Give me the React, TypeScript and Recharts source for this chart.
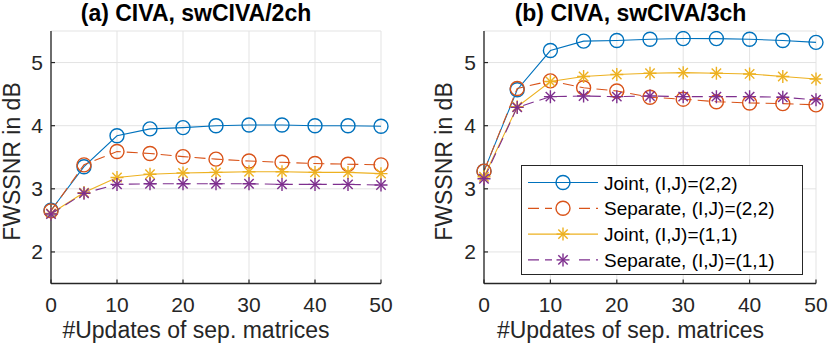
import { CartesianGrid, Label, Legend, Line, LineChart, XAxis, YAxis } from "recharts";

const updates = [0, 5, 10, 15, 20, 25, 30, 35, 40, 45, 50];
const xTicks = [0, 10, 20, 30, 40, 50];
const yTicks = [2, 3, 4, 5];

// (a) CIVA, swCIVA/2ch
const joint22A = [2.66, 3.35, 3.84, 3.95, 3.97, 4.0, 4.01, 4.01, 4.0, 4.0, 3.99];
const sep22A = [2.65, 3.38, 3.59, 3.56, 3.51, 3.47, 3.44, 3.42, 3.4, 3.39, 3.38];
const joint11A = [2.61, 2.94, 3.18, 3.23, 3.25, 3.26, 3.27, 3.27, 3.26, 3.26, 3.24];
const sep11A = [2.6, 2.93, 3.07, 3.08, 3.08, 3.08, 3.08, 3.07, 3.07, 3.07, 3.06];

// (b) CIVA, swCIVA/3ch
const joint22B = [3.28, 4.57, 5.19, 5.34, 5.35, 5.37, 5.38, 5.38, 5.37, 5.35, 5.32];
const sep22B = [3.28, 4.59, 4.71, 4.6, 4.55, 4.45, 4.42, 4.38, 4.36, 4.35, 4.33];
const joint11B = [3.19, 4.3, 4.7, 4.78, 4.81, 4.83, 4.84, 4.83, 4.82, 4.78, 4.74];
const sep11B = [3.16, 4.29, 4.46, 4.47, 4.46, 4.47, 4.46, 4.46, 4.46, 4.45, 4.41];

const FONT = "'Liberation Sans', Arial, Helvetica, sans-serif";
const INK = "#262626";

type Series = { key: string; name: string; color: string; dashed: boolean; marker: "circle" | "star" };

const series: Series[] = [
  { key: "j22", name: "Joint, (I,J)=(2,2)", color: "#0072BD", dashed: false, marker: "circle" },
  { key: "s22", name: "Separate, (I,J)=(2,2)", color: "#D95319", dashed: true, marker: "circle" },
  { key: "j11", name: "Joint, (I,J)=(1,1)", color: "#EDB120", dashed: false, marker: "star" },
  { key: "s11", name: "Separate, (I,J)=(1,1)", color: "#7E2F8E", dashed: true, marker: "star" },
];

const buildRows = (j22: number[], s22: number[], j11: number[], s11: number[]) =>
  updates.map((x, i) => ({ x, j22: j22[i], s22: s22[i], j11: j11[i], s11: s11[i] }));

const dataA = buildRows(joint22A, sep22A, joint11A, sep11A);
const dataB = buildRows(joint22B, sep22B, joint11B, sep11B);

function Marker({ cx, cy, s }: { cx: number; cy: number; s: Series }) {
  if (s.marker === "circle") {
    return <circle cx={cx} cy={cy} r={7} fill="none" stroke={s.color} strokeWidth={1.4} />;
  }
  const r = 6.5;
  const d = 4.7;
  return (
    <g stroke={s.color} strokeWidth={1.4}>
      <line x1={cx - r} x2={cx + r} y1={cy} y2={cy} />
      <line x1={cx} x2={cx} y1={cy - r} y2={cy + r} />
      <line x1={cx - d} x2={cx + d} y1={cy - d} y2={cy + d} />
      <line x1={cx - d} x2={cx + d} y1={cy + d} y2={cy - d} />
    </g>
  );
}

const YTick = (props: any) => {
  const { x, y, payload } = props;
  return (
    <g>
      <line x1={x} x2={x + 4} y1={y} y2={y} stroke={INK} strokeWidth={1.2} />
      <text x={x - 8} y={y + 7.5} textAnchor="end" fontSize={21} fontFamily={FONT} fill={INK}>
        {payload.value}
      </text>
    </g>
  );
};

const XTick = (props: any) => {
  const { x, y, payload } = props;
  return (
    <g>
      <line x1={x} x2={x} y1={y} y2={y - 4} stroke={INK} strokeWidth={1.2} />
      <text x={x} y={y + 28.5} textAnchor="middle" fontSize={21} fontFamily={FONT} fill={INK}>
        {payload.value}
      </text>
    </g>
  );
};

function LegendBox() {
  return (
    <div style={{ width: 280, height: 108, border: `1px solid ${INK}`, background: "#fff" }}>
      <svg width={280} height={108}>
        {series.map((s, i) => {
          const cy = 16.5 + i * 25.8;
          return (
            <g key={s.key}>
              <line
                x1={6}
                x2={76}
                y1={cy}
                y2={cy}
                stroke={s.color}
                strokeWidth={1.2}
                strokeDasharray={s.dashed ? "11 6" : undefined}
              />
              {s.dashed ? <rect x={30} y={cy - 8} width={21} height={16} fill="#fff" /> : null}
              <Marker cx={41} cy={cy} s={s} />
              <text x={82} y={cy + 7} fontSize={19} fontFamily={FONT} fill="#000">
                {s.name}
              </text>
            </g>
          );
        })}
      </svg>
    </div>
  );
}

type PanelProps = {
  title: string;
  data: Record<string, number>[];
  yAxisWidth: number;
  right: number;
  centerX: number;
  yLabelX: number;
  showLegend: boolean;
};

function Panel({ title, data, yAxisWidth, right, centerX, yLabelX, showLegend }: PanelProps) {
  return (
    <LineChart width={415} height={346} data={data} margin={{ top: 31, right, left: 0, bottom: 0 }}>
      <CartesianGrid stroke="#e3e3e3" strokeWidth={1} />
      <XAxis
        dataKey="x"
        type="number"
        domain={[0, 50]}
        ticks={xTicks}
        height={62.5}
        tickSize={0}
        tickMargin={0}
        tick={<XTick />}
        axisLine={{ stroke: INK, strokeWidth: 1.3 }}
        tickLine={false}
      >
        <Label
          content={() => (
            <text x={centerX} y={338} textAnchor="middle" fontSize={23} fontFamily={FONT} fill={INK}>
              #Updates of sep. matrices
            </text>
          )}
        />
        <Label
          content={() => (
            <text x={centerX} y={21} textAnchor="middle" fontSize={23} fontWeight="bold" fontFamily={FONT} fill="#000">
              {title}
            </text>
          )}
        />
      </XAxis>
      <YAxis
        type="number"
        domain={[1.5, 5.5]}
        ticks={yTicks}
        width={yAxisWidth}
        tickSize={0}
        tickMargin={0}
        tick={<YTick />}
        axisLine={{ stroke: INK, strokeWidth: 1.3 }}
        tickLine={false}
        allowDataOverflow
      >
        <Label
          content={() => (
            <text
              x={yLabelX}
              y={161.5}
              transform={`rotate(-90 ${yLabelX} 161.5)`}
              textAnchor="middle"
              fontSize={23}
              fontFamily={FONT}
              fill={INK}
            >
              FWSSNR in dB
            </text>
          )}
        />
      </YAxis>
      {series.map((s) => (
        <Line
          key={s.key}
          type="linear"
          dataKey={s.key}
          name={s.name}
          stroke={s.color}
          strokeWidth={1.1}
          strokeDasharray={s.dashed ? "11 6" : undefined}
          isAnimationActive={false}
          activeDot={false}
          dot={(p: any) => <Marker key={`${s.key}-${p.index}`} cx={p.cx} cy={p.cy} s={s} />}
        />
      ))}
      {showLegend ? (
        <Legend
          layout="vertical"
          align="center"
          verticalAlign="middle"
          content={() => <LegendBox />}
          wrapperStyle={{ left: 106, top: 165, width: 282, height: 110 }}
        />
      ) : null}
    </LineChart>
  );
}

export default function App() {
  return (
    <div style={{ position: "absolute", left: 0, top: 0, width: 830, height: 346, display: "flex", background: "#fff" }}>
      <Panel title="(a) CIVA, swCIVA/2ch" data={dataA} yAxisWidth={51} right={34} centerX={196} yLabelX={19.8} showLegend={false} />
      <Panel title="(b) CIVA, swCIVA/3ch" data={dataB} yAxisWidth={69} right={14} centerX={215.5} yLabelX={36.5} showLegend />
    </div>
  );
}
